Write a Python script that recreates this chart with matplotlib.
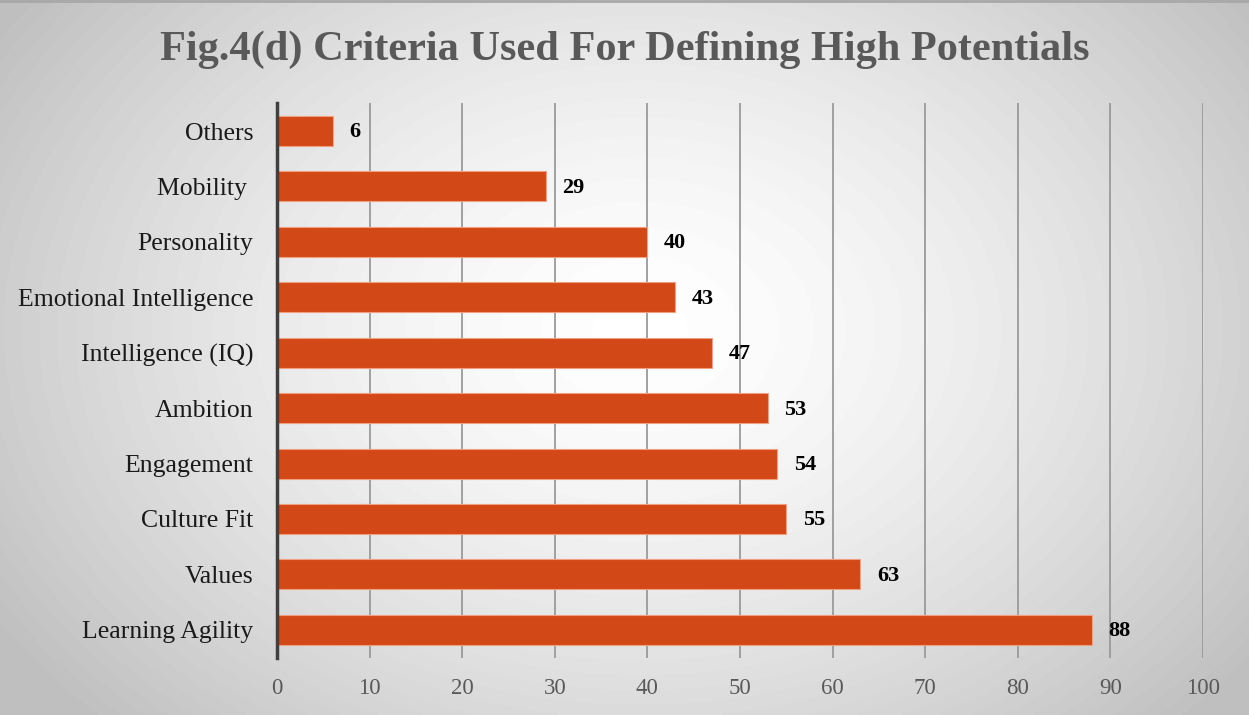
import numpy as np
import matplotlib
matplotlib.use("Agg")
import matplotlib.pyplot as plt

plt.rcParams['font.family'] = ['Liberation Serif', 'DejaVu Serif']

# survey results, top to bottom as drawn
criteria = ['Others', 'Mobility ', 'Personality', 'Emotional Intelligence',
            'Intelligence (IQ)', 'Ambition', 'Engagement', 'Culture Fit',
            'Values', 'Learning Agility']
percent = [6, 29, 40, 43, 47, 53, 54, 55, 63, 88]
xticks = [0, 10, 20, 30, 40, 50, 60, 70, 80, 90, 100]

BAR_COLOR = '#D34817'
GRID_COLOR = '#9A9A9A'

fig = plt.figure(figsize=(12.49, 7.15), dpi=100)

#radial grey-to-white backdrop behind everything
bg = fig.add_axes([0, 0, 1, 1], zorder=-10)
h, w = 715, 1249
yy, xx = np.mgrid[0:h, 0:w]
r = np.sqrt(((xx - 640) / 760.0) ** 2 + ((yy - 330) / 560.0) ** 2)
shade = 1.0 - 0.25 * np.clip(r, 0, 1) ** 1.5
bg.imshow(shade, cmap='gray', vmin=0, vmax=1, aspect='auto',
          extent=[0, 1, 0, 1], origin='upper')
bg.axhline(0.998, color='#A8A8A8', lw=2)
bg.set_axis_off()

ax = fig.add_axes([0.2218, 0.0804, 0.7414, 0.7751])
ax.patch.set_alpha(0)

y = np.arange(len(criteria))
ax.barh(y, percent, height=0.54, color=BAR_COLOR, edgecolor='#F0A080',
        linewidth=0.8, zorder=3)

for yi, v in zip(y, percent):
    ax.annotate(str(v), (v, yi), xytext=(12, -1), textcoords='offset points',
                ha='left', va='center', fontsize=16, fontweight='bold',
                color='black', zorder=4)

ax.set_ylim(len(criteria) - 0.5, -0.5)
ax.set_xlim(0, 100)
ax.set_yticks(y)
ax.set_yticklabels(criteria, fontsize=18.5, color='#1a1a1a')
ax.set_xticks(xticks)
ax.set_xticklabels([str(t) for t in xticks], fontsize=16.5, color='#595959')
ax.tick_params(axis='y', length=0, pad=17)
ax.tick_params(axis='x', length=0, pad=15)

ax.xaxis.grid(True, color=GRID_COLOR, linewidth=1.3, zorder=0)
ax.set_axisbelow(True)
for s in ['top', 'right', 'bottom']:
    ax.spines[s].set_visible(False)
ax.spines['left'].set_color('#404040')
ax.spines['left'].set_linewidth(2.5)
ax.spines['left'].set_zorder(5)

fig.text(0.5, 0.93, 'Fig.4(d) Criteria Used For Defining High Potentials',
         ha='center', va='center', fontsize=30.5, fontweight='bold',
         color='#595959')

fig.savefig('out.png', dpi=100)
